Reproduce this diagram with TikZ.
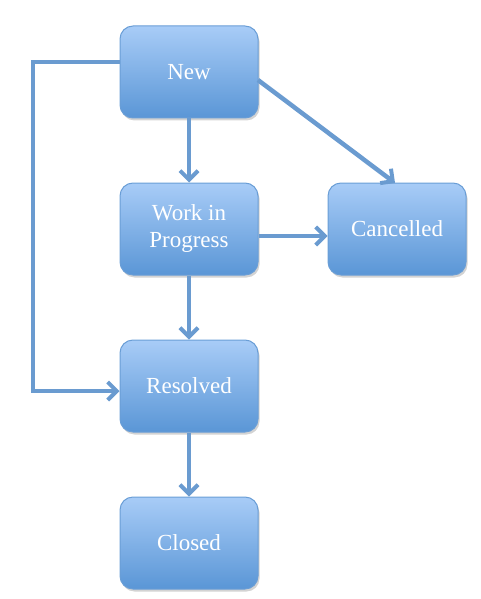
\documentclass[tikz,border=0pt]{standalone}
\usepackage{fontspec}
\setmainfont{Liberation Serif}
\usetikzlibrary{arrows.meta,shadows}
\definecolor{boxtop}{HTML}{A8CCF7}
\definecolor{boxbot}{HTML}{5A96D6}
\definecolor{boxedge}{HTML}{6A9ED6}
\definecolor{linec}{HTML}{6A9BD0}
\tikzset{
  state/.style={draw=boxedge, line width=1pt, rounded corners=13pt,
    top color=boxtop, bottom color=boxbot, minimum width=138pt, minimum height=92pt,
    text=white, font=\fontsize{23}{27}\selectfont, align=center,
    drop shadow={shadow xshift=1.5pt, shadow yshift=-2.5pt, opacity=0.35}},
  conn/.style={draw=linec, line width=4.5pt, line join=miter, -{Straight Barb[length=9pt,width=18pt,line width=4pt]}}
}
\begin{document}
\begin{tikzpicture}[x=1pt,y=-1pt]
\useasboundingbox (0,0) rectangle (481,599);
\node[state] (new) at (189,72) {New};
\node[state] (wip) at (189,229) {Work in\\Progress};
\node[state] (can) at (397,229) {Cancelled};
\node[state] (res) at (189,386) {Resolved};
\node[state] (clo) at (189,543) {Closed};
\coordinate (c1) at (33,62);
\coordinate (c2) at (33,391);
\draw[conn] (new.west |- c1) -- (c1) -- (c2) -- (res.west |- c2);
\draw[conn] (new) -- (wip);
\draw[conn] (wip) -- (res);
\draw[conn] (res) -- (clo);
\draw[conn] (wip.east |- 0,236) -- (can.west |- 0,236);
\draw[conn] (258,80) -- (395,183);
\end{tikzpicture}
\end{document}
